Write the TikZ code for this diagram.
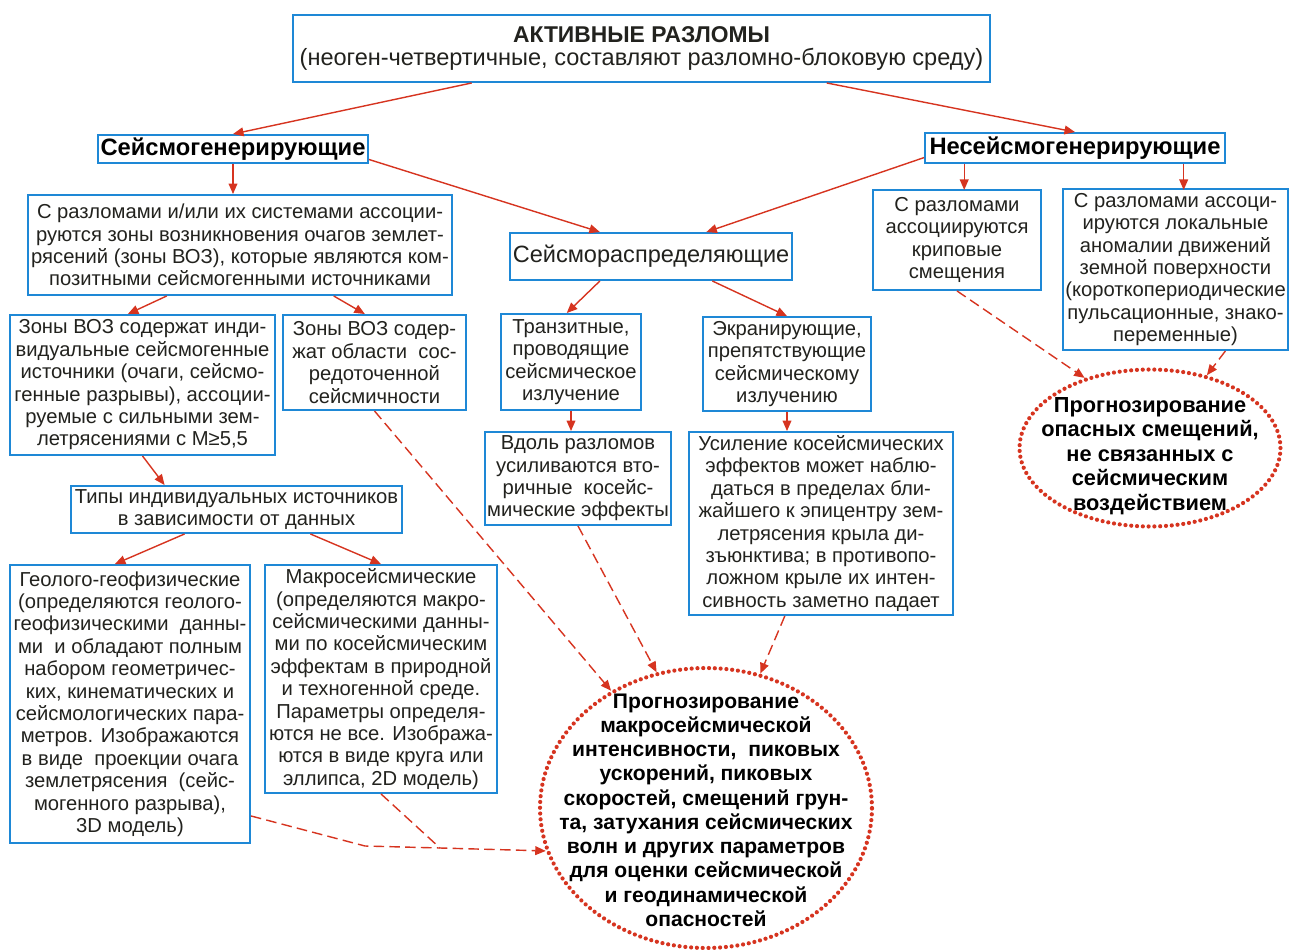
\documentclass[tikz,border=0pt]{standalone}
\usepackage{fontspec}
\setmainfont{Liberation Sans}
\usepackage{xcolor}
\usepackage{tikz}
\usetikzlibrary{arrows.meta}
\usetikzlibrary{shapes.geometric}
\usetikzlibrary{calc}
\usetikzlibrary{positioning}

\definecolor{boxblue}{RGB}{30,136,214}
\definecolor{linkred}{RGB}{214,52,32}
\definecolor{inkgray}{RGB}{34,34,30}

\begin{document}
\begin{tikzpicture}[x=0.02cm, y=-0.02cm,
    box/.style={draw=boxblue, line width=1.1pt, fill=white, align=center, inner sep=1pt,
      text=inkgray, font=\fontsize{11.5}{12.75}\selectfont},
    headbox/.style={box, font=\fontsize{13.5}{15}\selectfont\bfseries, text=black},
    link/.style={draw=linkred, line width=0.8pt, -{Triangle[length=6pt,width=5pt]}},
    dlink/.style={link, dash pattern=on 6pt off 3pt},
    forecast/.style={ellipse, draw=linkred, line width=2.4pt, line cap=round,
      dash pattern=on 0pt off 3.3pt, inner sep=0pt},
    forecasttext/.style={align=center, inner sep=0pt, text=black,
      font=\fontsize{12}{13.8}\selectfont\bfseries}]

    \useasboundingbox (0,0) rectangle (1289,950);

    \node[box, minimum width=13.94cm, minimum height=1.34cm] (top) at (641.5,48.5)
      {\fontsize{13}{15}\selectfont\textbf{АКТИВНЫЕ РАЗЛОМЫ}\\
       \fontsize{13.4}{15}\selectfont(неоген-четвертичные, составляют разломно-блоковую среду)};

    \node[headbox, minimum width=5.4cm, minimum height=0.56cm] (gen) at (233,149) {Сейсмогенерирующие};
    \node[headbox, minimum width=6cm, minimum height=0.6cm] (nongen) at (1075,148) {Несейсмогенерирующие};

    \node[box, minimum width=8.48cm, minimum height=2cm] (zones) at (240,245)
      {С разломами и/или их системами ассоции-\\руются зоны возникновения очагов землет-\\рясений (зоны ВОЗ), которые являются ком-\\позитными сейсмогенными источниками};
    \node[box, minimum width=5.64cm, minimum height=0.94cm, font=\fontsize{13.4}{16}\selectfont] (distr) at (651,256.5)
      {Сейсмораспределяющие};
    \node[box, minimum width=3.36cm, minimum height=2cm] (creep) at (957,240)
      {С разломами\\ассоциируются\\криповые\\смещения};
    \node[box, minimum width=4.5cm, minimum height=3.22cm] (local) at (1175.5,269.5)
      {С разломами ассоци-\\ируются локальные\\аномалии движений\\земной поверхности\\(короткопериодические\\пульсационные, знако-\\переменные)};

    \node[box, minimum width=5.3cm, minimum height=2.8cm] (voz1) at (142.5,385)
      {Зоны ВОЗ содержат инди-\\видуальные сейсмогенные\\источники (очаги, сейсмо-\\генные разрывы), ассоции-\\руемые с сильными зем-\\летрясениями с М≥5,5};
    \node[box, minimum width=3.66cm, minimum height=1.9cm] (voz2) at (374.5,362.5)
      {Зоны ВОЗ содер-\\жат области~ сос-\\редоточенной\\сейсмичности};
    \node[box, minimum width=2.8cm, minimum height=1.92cm] (trans) at (571,362)
      {Транзитные,\\проводящие\\сейсмическое\\излучение};
    \node[box, minimum width=3.36cm, minimum height=1.88cm] (screen) at (787,364)
      {Экранирующие,\\препятствующие\\сейсмическому\\излучению};

    \node[box, minimum width=3.68cm, minimum height=1.86cm] (along) at (578,478.5)
      {Вдоль разломов\\усиливаются вто-\\ричные~ косейс-\\мические эффекты};
    \node[box, minimum width=5.28cm, minimum height=3.66cm] (amplif) at (821,523.5)
      {Усиление косейсмических\\эффектов может наблю-\\даться в пределах бли-\\жайшего к эпицентру зем-\\летрясения крыла ди-\\зъюнктива; в противопо-\\ложном крыле их интен-\\сивность заметно падает};
    \node[box, minimum width=6.62cm, minimum height=0.94cm] (types) at (236.5,509.5)
      {Типы индивидуальных источников\\в зависимости от данных};

    \node[box, minimum width=4.8cm, minimum height=5.56cm] (geo) at (130,704)
      {Геолого-геофизические\\(определяются геолого-\\геофизическими~ данны-\\ми~ и обладают полным\\набором геометричес-\\ких, кинематических и\\сейсмологических пара-\\метров. Изображаются\\в виде~ проекции очага\\землетрясения~ (сейс-\\могенного разрыва),\\3D модель)};
    \node[box, minimum width=4.64cm, minimum height=4.56cm] (macro) at (381,679)
      {Макросейсмические\\(определяются макро-\\сейсмическими данны-\\ми по косейсмическим\\эффектам в природной\\и техногенной среде.\\Параметры определя-\\ются не все. Изобража-\\ются в виде круга или\\эллипса, 2D модель)};

    \node[forecast, minimum width=6.64cm, minimum height=5.6cm] (bigell) at (706,808) {};
    \node[forecasttext] (bigtext) at ([yshift=-0.04cm]bigell.center)
      {Прогнозирование\\макросейсмической\\интенсивности,~ пиковых\\ускорений, пиковых\\скоростей, смещений грун-\\та, затухания сейсмических\\волн и других параметров\\для оценки сейсмической\\и геодинамической\\опасностей};
    \node[forecast, minimum width=5.22cm, minimum height=3.14cm] (smallell) at (1150,448) {};
    \node[forecasttext, font=\fontsize{12.4}{13.9}\selectfont\bfseries] (smalltext) at ([yshift=-0.16cm]smallell.center)
      {Прогнозирование\\опасных смещений,\\не связанных с\\сейсмическим\\воздействием};

    \coordinate (bend) at (365,846);
    \coordinate (join) at (440,848);

    \draw[link] ($(top.south west)!0.257!(top.south east)$) -- (gen.north);
    \draw[link] ($(top.south west)!0.765!(top.south east)$) -- (nongen.north);
    \draw[link] (gen.south) -- (gen.south |- zones.north);
    \draw[link] ($(gen.east)!0.7!(gen.south east)$) -- ($(distr.north west)!0.32!(distr.north east)$);
    \draw[link] ($(nongen.west)!0.6!(nongen.south west)$) -- ($(distr.north west)!0.695!(distr.north east)$);
    \draw[link] ($(nongen.south west)!0.133!(nongen.south east)$) -- ++(0,26);
    \draw[link] ($(nongen.south west)!0.86!(nongen.south east)$) -- ++(0,26);
    \draw[link] ($(zones.south west)!0.328!(zones.south east)$) -- ($(voz1.north west)!0.445!(voz1.north east)$);
    \draw[link] ($(zones.south west)!0.72!(zones.south east)$) -- ($(voz2.north west)!0.448!(voz2.north east)$);
    \draw[link] ($(distr.south west)!0.32!(distr.south east)$) -- ($(trans.north west)!0.47!(trans.north east)$);
    \draw[link] ($(distr.south west)!0.716!(distr.south east)$) -- (screen.north);
    \draw[link] (trans.south) -- (trans.south |- along.north);
    \draw[link] (screen.south) -- (screen.south |- amplif.north);
    \draw[link] (voz1.south) -- ($(types.north west)!0.284!(types.north east)$);
    \draw[link] ($(types.south west)!0.344!(types.south east)$) -- ($(geo.north west)!0.4375!(geo.north east)$);
    \draw[link] ($(types.south west)!0.722!(types.south east)$) -- (macro.north);

    \draw[dlink] (creep.south) -- (smallell.133);
    \draw[dlink] ($(local.south west)!0.72!(local.south east)$) -- (smallell.52);
    \draw[dlink] (voz2.south) -- (bigell.129);
    \draw[dlink] (along.south) -- (bigell.110);
    \draw[dlink] ($(amplif.south west)!0.364!(amplif.south east)$) -- (bigell.68);
    \draw[dlink] ($(geo.north east)!0.9!(geo.south east)$) -- (bend) -- (join) -- (bigell.195);
    \draw[dlink, -] (macro.south) -- (join);
\end{tikzpicture}
\end{document}
